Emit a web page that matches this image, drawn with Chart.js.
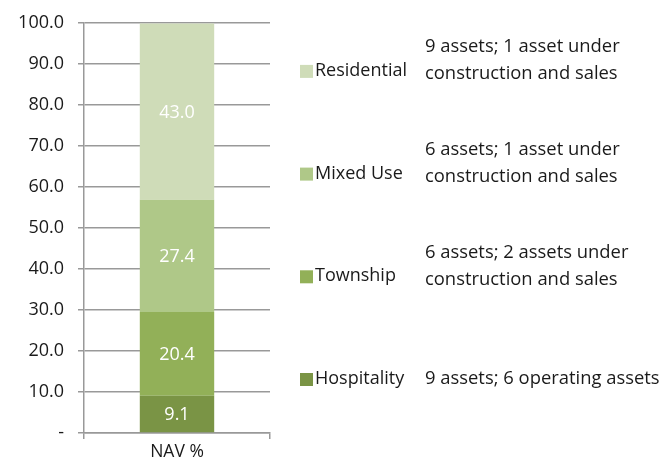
<!DOCTYPE html>
<html><head><meta charset="utf-8">
<script src="https://cdn.jsdelivr.net/npm/chart.js@4/dist/chart.umd.min.js"></script>
<style>html,body{margin:0;padding:0;background:#fff}#wrap{width:664px;height:465px}</style>
</head><body><div id="wrap"><canvas id="c" width="664" height="465"></canvas></div>
<script>
const categories = ['NAV %'];
const seriesNames = ['Hospitality', 'Township', 'Mixed Use', 'Residential'];
const hospitality = [9.1];
const township = [20.4];
const mixedUse = [27.4];
const residential = [43.0];
const descriptions = [
  ['9 assets; 6 operating assets'],
  ['6 assets; 2 assets under', 'construction and sales'],
  ['6 assets; 1 asset under', 'construction and sales'],
  ['9 assets; 1 asset under', 'construction and sales']
];
const yTicks = [0, 10, 20, 30, 40, 50, 60, 70, 80, 90, 100];
const colors = ['#7a9445', '#92b058', '#afc888', '#cfdcb8'];
const FONT = '"Open Sans", sans-serif';

const seriesValues = [hospitality, township, mixedUse, residential];

const sidePlugin = {
  id: 'side',
  afterDatasetsDraw(chart) {
    const ctx = chart.ctx;
    ctx.save();
    ctx.font = '18px ' + FONT;
    ctx.fillStyle = '#ffffff';
    ctx.textAlign = 'center';
    ctx.textBaseline = 'middle';
    chart.data.datasets.forEach((ds, i) => {
      const meta = chart.getDatasetMeta(i);
      meta.data.forEach((bar, j) => {
        const p = bar.getProps(['x', 'y', 'base'], true);
        ctx.fillText(ds.data[j].toFixed(1), p.x, (p.y + p.base) / 2 + 1);
      });
    });
    const n = chart.data.datasets.length;
    const step = 102.7;
    ctx.textAlign = 'left';
    for (let i = 0; i < n; i++) {
      const ds = chart.data.datasets[i];
      const cy = 379 - i * step;
      ctx.fillStyle = ds.backgroundColor;
      ctx.fillRect(300, cy - 6, 13, 13);
      ctx.fillStyle = '#1a1a1a';
      ctx.font = '18px ' + FONT;
      ctx.fillText(ds.label, 315, cy);
      const lines = descriptions[i];
      ctx.font = '18.4px ' + FONT;
      if (lines.length === 1) {
        ctx.fillText(lines[0], 425, cy);
      } else {
        ctx.fillText(lines[0], 425, cy - 24);
        ctx.fillText(lines[1], 425, cy + 3);
      }
    }
    ctx.restore();
  }
};

new Chart(document.getElementById('c'), {
  type: 'bar',
  data: {
    labels: categories,
    datasets: seriesValues.map((v, i) => ({
      label: seriesNames[i],
      data: v,
      backgroundColor: colors[i],
      borderWidth: 0,
      barPercentage: 0.4,
      categoryPercentage: 1.0
    }))
  },
  options: {
    responsive: false,
    animation: false,
    devicePixelRatio: 1,
    layout: { padding: { left: 0, right: 394, top: 23, bottom: 0 } },
    plugins: { legend: { display: false }, tooltip: { enabled: false } },
    scales: {
      x: {
        stacked: true,
        offset: true,
        grid: { display: true, drawOnChartArea: false, offset: true, color: '#999999', lineWidth: 1.5, tickLength: 6 },
        border: { display: true, color: '#999999', width: 1.5 },
        ticks: { color: '#1a1a1a', font: { family: FONT, size: 17.5 }, padding: 3 },
        afterFit(s) { s.height = 32; }
      },
      y: {
        stacked: true,
        min: 0, max: 100,
        afterBuildTicks(s) { s.ticks = yTicks.map(v => ({ value: v })); },
        grid: { color: '#999999', lineWidth: 1.5, tickLength: 6 },
        border: { display: true, color: '#999999', width: 1.5 },
        ticks: {
          color: '#1a1a1a',
          font: { family: FONT, size: 18 },
          padding: 14,
          callback: v => v === 0 ? '-' : Number(v).toFixed(1)
        },
        afterFit(s) { s.width = 84; s.paddingTop = 0; s.paddingBottom = 0; }
      }
    }
  },
  plugins: [sidePlugin]
});
</script>
</body></html>
